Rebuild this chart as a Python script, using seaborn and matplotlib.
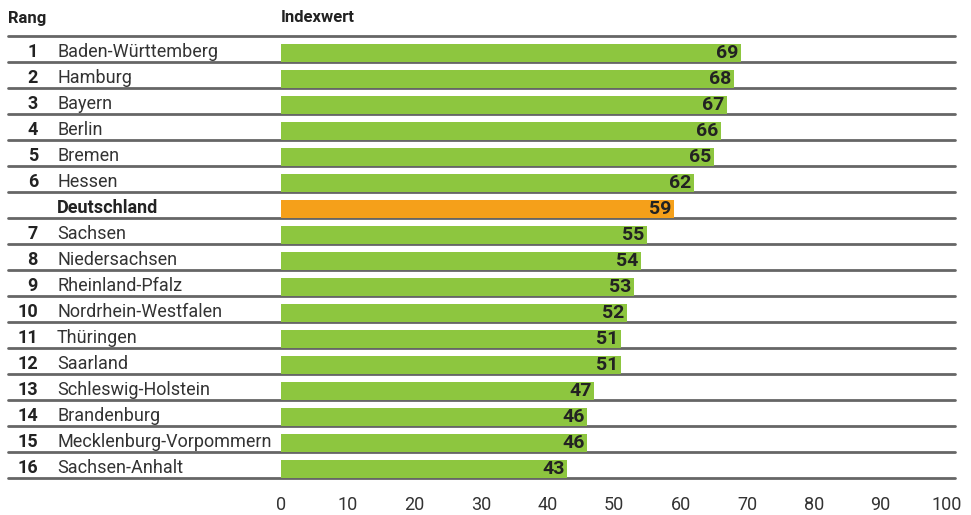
import pandas as pd
import seaborn as sns
import matplotlib.pyplot as plt
from matplotlib.transforms import blended_transform_factory

# data
ranks = ["1", "2", "3", "4", "5", "6", "", "7", "8", "9", "10", "11", "12", "13", "14", "15", "16"]
laender = ["Baden-Württemberg", "Hamburg", "Bayern", "Berlin", "Bremen", "Hessen", "Deutschland",
           "Sachsen", "Niedersachsen", "Rheinland-Pfalz", "Nordrhein-Westfalen", "Thüringen",
           "Saarland", "Schleswig-Holstein", "Brandenburg", "Mecklenburg-Vorpommern", "Sachsen-Anhalt"]
indexwert = [69, 68, 67, 66, 65, 62, 59, 55, 54, 53, 52, 51, 51, 47, 46, 46, 43]
gruppe = ["Land"] * 6 + ["Bund"] + ["Land"] * 10
xticks = [0, 10, 20, 30, 40, 50, 60, 70, 80, 90, 100]

sns.set_style("white")
plt.rcParams['font.family'] = ["Roboto", "DejaVu Sans"]

df = pd.DataFrame({"land": laender, "wert": indexwert, "gruppe": gruppe})

W, H = 971, 515
fig = plt.figure(figsize=(W / 100, H / 100), dpi=100)
ax = fig.add_axes([281 / W, 1 - 478 / H, (947 - 281) / W, (478 - 36) / H])

sns.barplot(data=df, x="wert", y="land", hue="gruppe", palette={"Land": "#8dc63f", "Bund": "#f5a01a"},
            dodge=False, width=0.7, legend=False, ax=ax, saturation=1, linewidth=0)

ax.set_xlim(0, 100)
ax.set_ylim(16.35, -0.65)
ax.set_xlabel("")
ax.set_ylabel("")
ax.set_yticks([])
ax.set_xticks(xticks)
ax.set_xticklabels([str(t) for t in xticks], fontsize=13, color="#333333")
ax.tick_params(axis="x", length=0, pad=13)
for s in ax.spines.values():
    s.set_visible(False)

# row separator lines spanning whole width
x0 = (8 - 281) / (947 - 281)
x1 = (955 - 281) / (947 - 281)
for i in range(-1, len(laender)):
    ax.axhline(i + 0.35, xmin=x0, xmax=x1, color="#666666", lw=2, clip_on=False, zorder=0)

tr = blended_transform_factory(fig.transFigure, ax.transData)
for i, (r, n, v) in enumerate(zip(ranks, laender, indexwert)):
    bold = n == "Deutschland"
    ax.text(38 / W, i - 0.05, r, transform=tr, ha="right", va="center", fontsize=13,
            fontweight="bold", color="#222222")
    ax.text(57 / W, i - 0.05, n, transform=tr, ha="left", va="center", fontsize=13,
            fontweight="bold" if bold else "normal", color="#222222" if bold else "#333333")
    ax.text(v - 0.4, i + 0.02, str(v), ha="right", va="center", fontsize=14,
            fontweight="bold", color="#222222")

fig.text(8 / W, 1 - 18 / H, "Rang", ha="left", va="center", fontsize=12, fontweight="bold", color="#222222")
fig.text(281 / W, 1 - 18 / H, "Indexwert", ha="left", va="center", fontsize=12, fontweight="bold", color="#222222")

plt.savefig("out.png", dpi=100)
